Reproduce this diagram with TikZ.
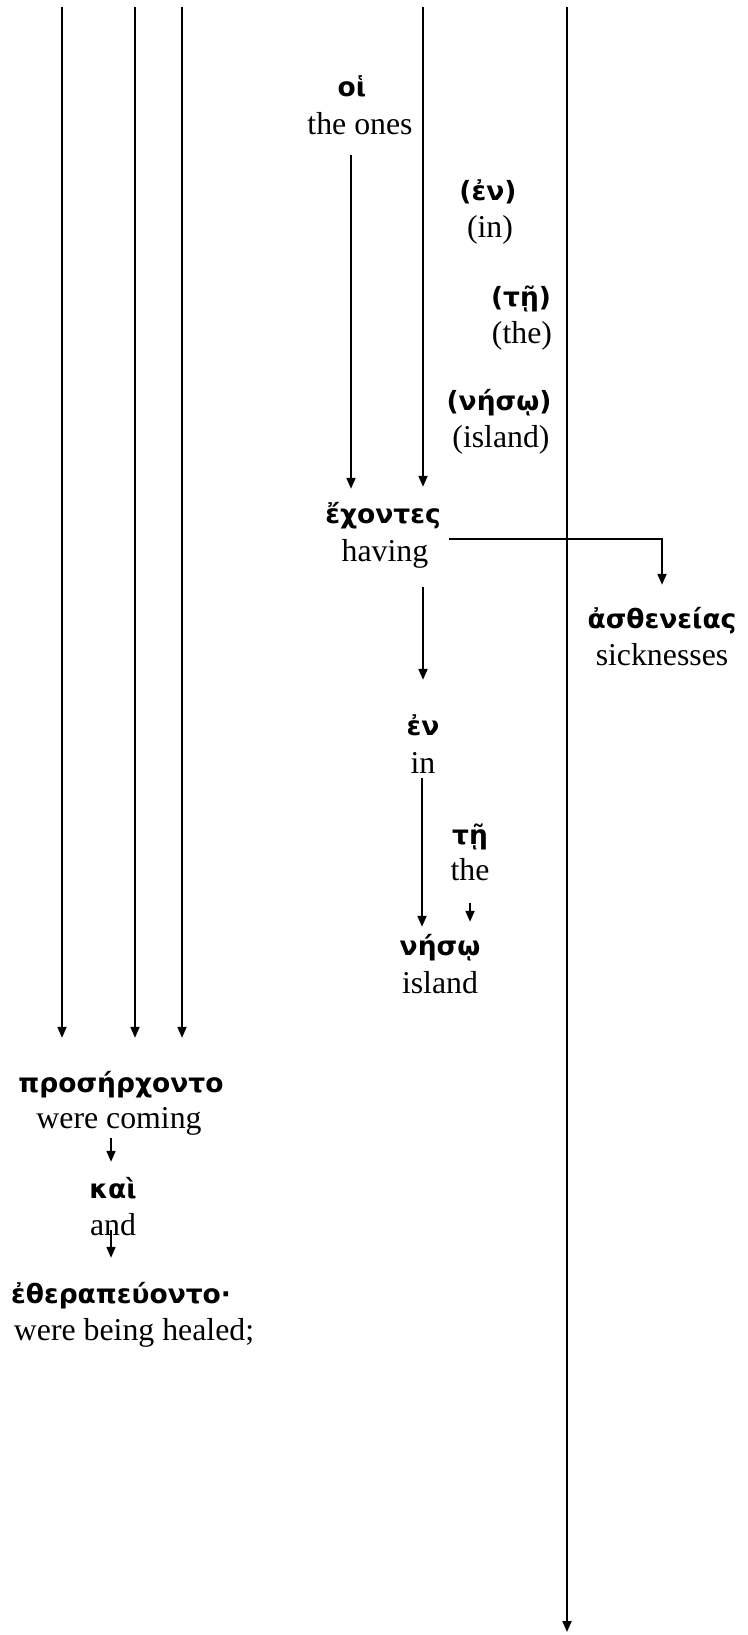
\documentclass[tikz,border=0pt]{standalone}
\usepackage{fontspec}
\setmainfont{Liberation Serif}
\newfontfamily\grkfont{DejaVu Sans}
\usetikzlibrary{arrows.meta}
\begin{document}
\begin{tikzpicture}[x=1pt,y=-1pt,
  gk/.style={font=\grkfont\bfseries\fontsize{26.5}{30}\selectfont, inner sep=0pt, anchor=base, text height=22pt, text depth=7pt},
  en/.style={font=\fontsize{31.8}{38}\selectfont, inner sep=0pt, anchor=base, text height=22pt, text depth=7pt},
  arr/.style={line width=2pt, -{Triangle[length=11pt,width=9pt]}},
  ln/.style={line width=2pt}]
\useasboundingbox (0,0) rectangle (747,1635);
% top free ends
\coordinate (t1) at (62,7);
\coordinate (t2) at (135,7);
\coordinate (t3) at (182,7);
\coordinate (t4) at (423,7);
\coordinate (t5) at (567,7);
\coordinate (b5) at (567,1632);
% words
\node[gk] (oi-g) at (352,97) {οἱ};
\node[en] (oi-e) at (360,135) {the ones};
\node[gk] (en1-g) at (488,200) {(ἐν)};
\node[en] (en1-e) at (490,237) {(in)};
\node[gk] (te1-g) at (521,306) {(τῇ)};
\node[en] (te1-e) at (522,343) {(the)};
\node[gk] (ne1-g) at (499,410) {(νήσῳ)};
\node[en] (ne1-e) at (501,447) {(island)};
\node[gk] (ech-g) at (383,523) {ἔχοντες};
\node[en] (ech-e) at (385,561) {having};
\node[gk] (as-g) at (662,628) {ἀσθενείας};
\node[en] (as-e) at (662,665) {sicknesses};
\node[gk] (en2-g) at (423,735) {ἐν};
\node[en] (en2-e) at (423,773) {in};
\node[gk] (te2-g) at (470,844) {τῇ};
\node[en] (te2-e) at (470,880) {the};
\node[gk] (ne2-g) at (440,955) {νήσῳ};
\node[en] (ne2-e) at (440,993) {island};
\node[gk] (pr-g) at (121,1092) {προσήρχοντο};
\node[en] (pr-e) at (119,1128) {were coming};
\node[gk] (ka-g) at (113,1198) {καὶ};
\node[en] (ka-e) at (113,1235) {and};
\node[gk] (et-g) at (121,1303) {ἐθεραπεύοντο·};
\node[en] (et-e) at (134,1340) {were being healed;};
% helper x-positions
\coordinate (x62) at (62,0);
\coordinate (x135) at (135,0);
\coordinate (x182) at (182,0);
\coordinate (x351) at (351,0);
\coordinate (x423) at (423,0);
\coordinate (x422) at (422,0);
\coordinate (x470) at (470,0);
\coordinate (x111) at (111,0);
% connectors
\draw[arr, shorten >=32pt] (t1) -- (pr-g.north -| x62);
\draw[arr, shorten >=32pt] (t2) -- (pr-g.north -| x135);
\draw[arr, shorten >=32pt] (t3) -- (pr-g.north -| x182);
\draw[arr, shorten >=14pt] (t4) -- (ech-g.north -| x423);
\draw[arr] (t5) -- (b5);
\draw[arr, shorten <=13pt, shorten >=12pt] (oi-e.south -| x351) -- (ech-g.north -| x351);
\draw[arr, shorten <=21pt, shorten >=21pt] (ech-e.north east) -| (as-g.north);
\draw[arr, shorten <=19pt, shorten >=33pt] (ech-e.south -| x423) -- (en2-g.north -| x423);
\draw[arr, shorten <=-2pt, shorten >=6pt] (en2-e.south -| x422) -- (ne2-g.north -| x422);
\draw[arr, shorten <=16pt, shorten >=11pt] (te2-e.south -| x470) -- (ne2-g.north -| x470);
\draw[arr, shorten <=3pt, shorten >=14pt] (pr-e.south -| x111) -- (ka-g.north -| x111);
\draw[arr, shorten <=-12pt, shorten >=23pt] (ka-e.south -| x111) -- (et-g.north -| x111);
\end{tikzpicture}
\end{document}
